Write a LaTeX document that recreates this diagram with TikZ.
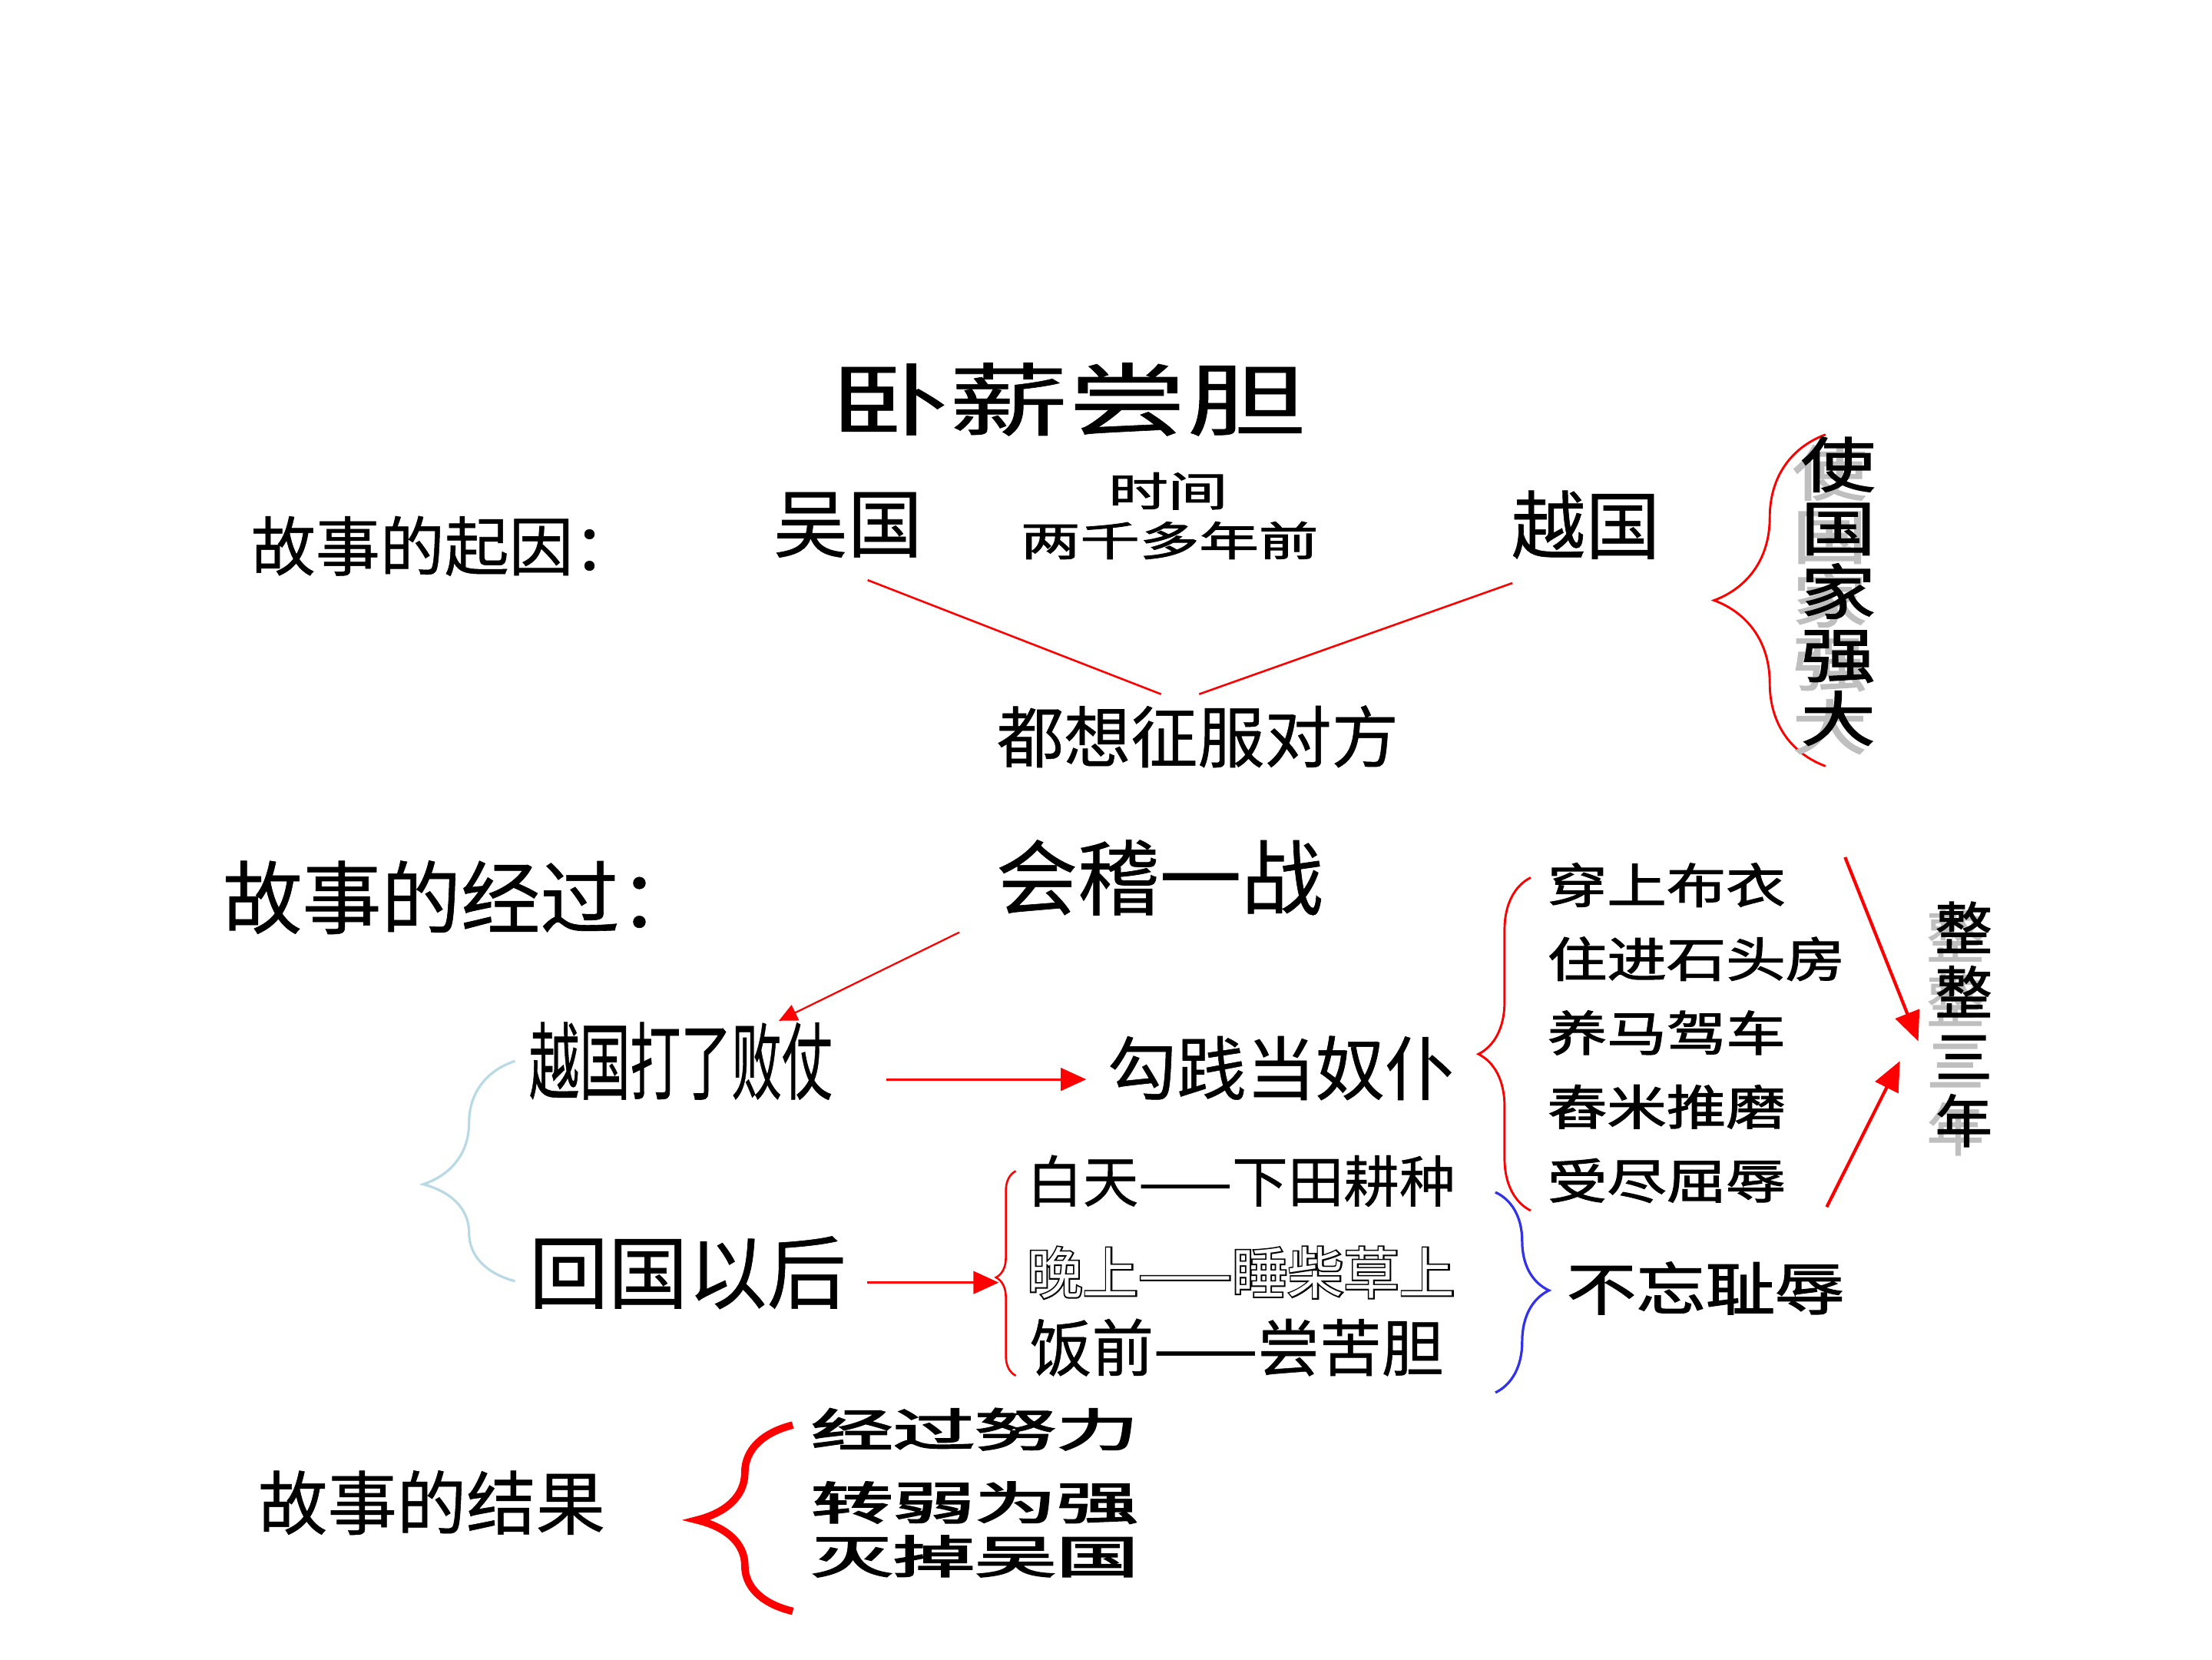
\documentclass[tikz,border=0pt]{standalone}
\usepackage{fontspec}
\setmainfont{Noto Sans CJK SC}[FakeBold=0.6]
\newfontfamily\boldcjk[FakeBold=1.8]{Noto Sans CJK SC}
\newfontfamily\heavycjk[FakeBold=3]{Noto Sans CJK SC}
\newfontfamily\outlinecjk[FakeBold=5]{Noto Sans CJK SC}
\newfontfamily\plaincjk{Noto Sans CJK SC}
\usepackage{tikz}
\usetikzlibrary{calc,positioning,arrows.meta,decorations.pathreplacing}

\newcommand{\fs}[1]{\fontsize{#1}{#1}\selectfont}
\newcommand{\vsquash}[2][0.8]{\scalebox{1}[#1]{#2}}
\newcommand{\hsquash}[2][0.6]{\scalebox{#1}[1]{#2}}
\definecolor{paleblue}{RGB}{185,218,228}
\definecolor{braceblue}{RGB}{50,50,235}
\tikzset{
  txt/.style={inner sep=0pt,outer sep=0pt},
  ghost/.style={txt,gray!50},
  redline/.style={red,line width=0.8pt},
  redarrow/.style={red,line width=1pt,->},
  curly/.style={decorate,decoration={brace,amplitude=#1}},
}

\begin{document}
\begin{tikzpicture}[x=0.2mm,y=-0.2mm,>={Triangle[length=3.6mm,width=3.2mm]}]
  \useasboundingbox (0,0) rectangle (1568,1176);

  \node[txt,font=\fs{32}] (title) at (757,283) {\scalebox{1.5}[1]{卧薪尝胆}};

  \node[txt,anchor=west,font=\fs{26}] (cause) at (178,387) {故事的起因：};
  \node[txt,font=\fs{30}] (wu) at (601,372) {吴国};
  \node[txt,font=\boldcjk\fs{24}] (era) at (828,348) {\vsquash[0.68]{时间}};
  \node[txt,font=\boldcjk\fs{24}] (date) at (829,383) {\vsquash[0.68]{两千多年前}};
  \node[txt,font=\fs{30}] (yue) at (1124,372) {越国};
  \node[txt,font=\fs{27}] (goal) at (849,522) {都想征服对方};
  \draw[redline] ($(wu.south)+(14,16)$) -- ($(goal.north)+(-26,-8)$);
  \draw[redline] ($(yue.south)+(-52,17)$) -- ($(goal.north)+(1,-8)$);

  \draw[red,line width=0.9pt,curly=15.8mm] (1294,543) -- (1294,308);
  \node[ghost,font=\boldcjk\fontsize{30}{25.6}\selectfont,align=center] (strongshadow) at (1297,425)
    {\vsquash{使}\\\vsquash{国}\\\vsquash{家}\\\vsquash{强}\\\vsquash{大}};
  \node[txt,font=\boldcjk\fontsize{30}{25.6}\selectfont,align=center] (strong) at (1303,419)
    {\vsquash{使}\\\vsquash{国}\\\vsquash{家}\\\vsquash{强}\\\vsquash{大}};

  \node[txt,anchor=west,font=\fs{32}] (course) at (158,636) {故事的经过：};
  \node[txt,font=\fs{33}] (battle) at (822,622) {会稽一战};
  \node[txt,anchor=west,font=\fs{34}] (defeat) at (375,752) {\hsquash{越国打了败仗}};
  \node[txt,anchor=west,font=\fs{32}] (back) at (375,902) {回国以后};
  \draw[paleblue,line width=1pt,curly=13mm,decoration={aspect=0.44}] (365,908) -- (365,752);
  \draw[red,line width=0.7pt,-{Triangle[length=2.6mm,width=2.4mm]}]
    ($(battle.south west)+(-26,12)$) -- ($(defeat.north east)+(-38,-1)$);

  \node[txt,font=\fs{28}] (servant) at (908,757) {勾践当奴仆};
  \draw[redarrow] ($(defeat.east)+(38,13)$) -- ($(servant.west)+(-15,8)$);

  \draw[red,line width=0.9pt,curly=7.4mm,decoration={aspect=0.47}] (1085,858) -- (1085,622);
  \node[txt,anchor=west,align=left,font=\boldcjk\fontsize{24}{29.8}\selectfont] (chores) at (1097,732)
    {\vsquash{穿上布衣}\\\vsquash{住进石头房}\\\vsquash{养马驾车}\\\vsquash{舂米推磨}\\\vsquash{受尽屈辱}};

  \node[ghost,font=\boldcjk\fontsize{23}{25.9}\selectfont,align=center] (yearsshadow) at (1386,732)
    {整\\整\\三\\年};
  \node[txt,font=\boldcjk\fontsize{23}{25.9}\selectfont,align=center] (years) at (1392,726)
    {整\\整\\三\\年};
  \draw[red,line width=1.3pt,-{Triangle[length=4.2mm,width=3.6mm]}]
    ($(chores.north east)+(0,-4)$) -- ($(years.west)+(-12,12)$);
  \draw[red,line width=1.3pt,-{Triangle[length=4.2mm,width=3.6mm]}]
    ($(chores.south east)+(-13,3)$) -- ($(years.west)+(-25,26)$);

  \draw[red,line width=0.8pt,curly=2.8mm,decoration={aspect=0.48}] (720,975) -- (720,830);
  \coordinate (dtip) at (708,909);
  \draw[redarrow] ($(back.east)+(15,7)$) -- (dtip);
  \node[txt,anchor=west,font=\fs{22.5}] (day) at (728,837) {白天——下田耕种};
  \node[txt,anchor=west,font=\outlinecjk\fs{22.5}] (night) at (728,902) {晚上——睡柴草上};
  \node[txt,anchor=west,font=\plaincjk\fs{22.5},white] (nightfill) at (night.west) {晚上——睡柴草上};
  \node[txt,anchor=west,font=\fs{25}] (meal) at (730,955) {饭前——尝苦胆};

  \draw[braceblue,line width=1pt,curly=7.6mm,decoration={aspect=0.49}] (1060,845) -- (1060,987);
  \node[txt,font=\boldcjk\fs{28}] (mindful) at (1209,913) {\vsquash[0.82]{不忘耻辱}};

  \node[txt,anchor=west,font=\fs{28}] (result) at (183,1065) {故事的结果};
  \draw[red,line width=3pt,curly=13.6mm,decoration={aspect=0.49}] (562,1142) -- (562,1010);
  \node[txt,anchor=west,font=\heavycjk\fs{33}] (effort) at (575,1013) {\vsquash[0.55]{经过努力}};
  \node[txt,anchor=west,font=\heavycjk\fs{33}] (turn) at (575,1065) {\vsquash[0.55]{转弱为强}};
  \node[txt,anchor=west,font=\heavycjk\fs{33}] (conquer) at (575,1103) {\vsquash[0.55]{灭掉吴国}};
\end{tikzpicture}
\end{document}
